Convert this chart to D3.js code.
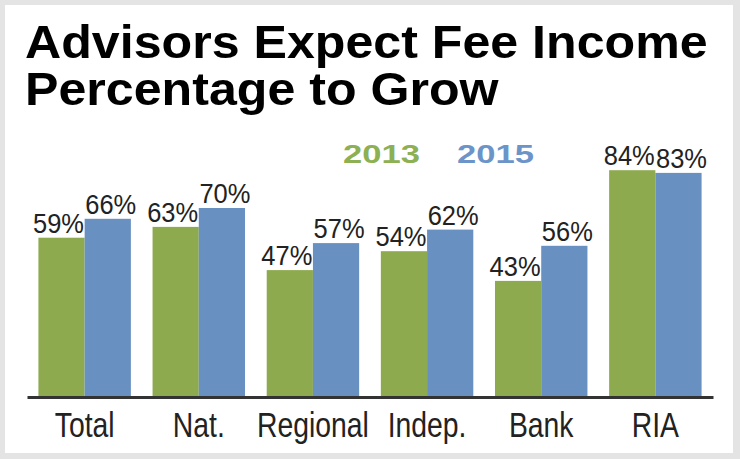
<!doctype html>
<html>
<head>
<meta charset="utf-8">
<script src="https://cdn.jsdelivr.net/npm/d3@7"></script>
<style>
  body { margin: 0; background: #fff; }
  svg { display: block; font-family: "Liberation Sans", Arial, sans-serif; }
</style>
</head>
<body>
<script>
const categories = ["Total", "Nat.", "Regional", "Indep.", "Bank", "RIA"]
const years = ["2013", "2015"]
const values2013 = [59, 63, 47, 54, 43, 84]
const values2015 = [66, 70, 57, 62, 56, 83]
const titleLines = ["Advisors Expect Fee Income", "Percentage to Grow"]

const w = 740
const h = 459
const colors = { "2013": "#8eaa4f", "2015": "#6891c1" }
const legendColors = { "2013": "#8cb052", "2015": "#6b95c9" }

let rows = categories.map((c, i) => {
    return { cat: c, vals: [ { year: "2013", v: values2013[i] }, { year: "2015", v: values2015[i] } ] }
})

let svg = d3.select('body')
    .append('svg')
    .attr('width', w)
    .attr('height', h)

// grey frame
svg.append('rect')
    .attr('width', w).attr('height', h)
    .attr('fill', '#e4e4e4')
svg.append('rect')
    .attr('x', 5).attr('y', 5)
    .attr('width', 728).attr('height', 448)
    .attr('fill', '#fff')

// title
svg.selectAll('.title')
    .data(titleLines)
    .enter()
    .append('text')
    .attr('class', 'title')
    .attr('transform', (d, i) => 'translate(25,' + (58 + i * 47) + ') scale(1.09,1)')
    .attr('font-size', '46px')
    .attr('font-weight', 'bold')
    .attr('fill', '#000')
    .text(d => d)

const x0 = d3.scaleBand()
    .domain(categories)
    .range([27, 713])
    .paddingInner(0.19)
    .paddingOuter(0.1)
const x1 = d3.scaleBand()
    .domain(years)
    .range([0, x0.bandwidth()])
const y = d3.scaleLinear()
    .domain([0, 100])
    .range([397, 127])

// legend
svg.selectAll('.legend')
    .data(years)
    .enter()
    .append('text')
    .attr('class', 'legend')
    .attr('transform', (d, i) => 'translate(' + (343 + i * 114) + ',163) scale(1.33,1)')
    .attr('font-size', '26px')
    .attr('font-weight', 'bold')
    .attr('fill', d => legendColors[d])
    .text(d => d)

let groups = svg.selectAll('.grp')
    .data(rows)
    .enter()
    .append('g')
    .attr('class', 'grp')
    .attr('transform', d => 'translate(' + x0(d.cat) + ',0)')

groups.selectAll('rect')
    .data(d => d.vals)
    .enter()
    .append('rect')
    .attr('x', d => x1(d.year))
    .attr('y', d => y(d.v))
    .attr('width', x1.bandwidth())
    .attr('height', d => y(0) - y(d.v))
    .attr('fill', d => colors[d.year])

groups.selectAll('text')
    .data(d => d.vals)
    .enter()
    .append('text')
    .attr('transform', d => {
        let shift = d.year == "2013" ? -3 : 3
        return 'translate(' + (x1(d.year) + x1.bandwidth() / 2 + shift) + ',' + (y(d.v) - 5) + ') scale(0.91,1)'
    })
    .attr('text-anchor', 'middle')
    .attr('font-size', '28px')
    .attr('fill', '#222')
    .text(d => d.v + '%')

// category axis
let axis = svg.append('g')
    .attr('transform', 'translate(0,' + y(0) + ')')
    .call(d3.axisBottom(x0).tickSize(0).tickSizeOuter(0))
axis.select('.domain')
    .attr('stroke', '#333')
    .attr('stroke-width', 3)
axis.selectAll('.tick text')
    .attr('y', 0)
    .attr('dy', 40)
    .attr('font-size', '35px')
    .attr('font-family', '"Liberation Sans", Arial, sans-serif')
    .attr('fill', '#222')
    .attr('transform', 'scale(0.81,1)')
</script>
</body>
</html>
